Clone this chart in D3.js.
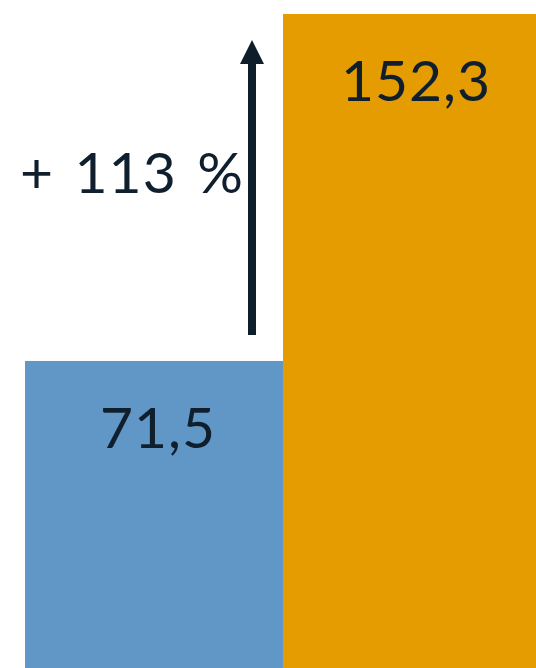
<!DOCTYPE html>
<html>
<head>
<meta charset="utf-8">
<script src="https://cdn.jsdelivr.net/npm/d3@7"></script>
<style>
  html, body { margin: 0; padding: 0; background: #fff; }
  svg { display: block; }
  text { font-family: Lato, "Open Sans", sans-serif; fill: #0f1f2d; letter-spacing: 1px; }
</style>
</head>
<body>
<div id="chart"></div>
<script>
// data
const categories = ['vorher', 'nachher'];
const values = [71.5, 152.3];
const colors = ['#6197c7', '#e59c00'];

const W = 536, H = 668;
const margin = {t:14, r:0, b:0, l:25};

const svg = d3.select('#chart').append('svg')
	.attr('width', W)
	.attr('height', H);

const scaleX = d3.scaleBand()
	.domain(categories)
	.range([margin.l, margin.l + 2*258])
	.paddingInner(0)
	.paddingOuter(0);

const scaleY = d3.scaleLinear()
	.domain([0, d3.max(values)])
	.range([H - margin.b, margin.t]);

const fmt = d3.format('.1f');
const fmtLabel = v => fmt(v).replace('.', ',');

// bars
svg.selectAll('.bar')
	.data(values)
	.enter()
	.append('rect')
	.attr('class', 'bar')
	.attr('x', (d,i) => scaleX(categories[i]))
	.attr('y', d => scaleY(d))
	.attr('width', scaleX.bandwidth())
	.attr('height', d => scaleY(0) - scaleY(d))
	.attr('fill', (d,i) => colors[i]);

// value labels
svg.selectAll('.label')
	.data(values)
	.enter()
	.append('text')
	.attr('class', 'label')
	.attr('x', (d,i) => scaleX(categories[i]) + scaleX.bandwidth()/2 + 4)
	.attr('y', d => scaleY(d) + 87)
	.attr('text-anchor', 'middle')
	.style('font-size', '57px')
	.text(d => fmtLabel(d));

// growth arrow
const ax = 252;
const yTop = scaleY(values[1]) + 26;
const yBot = scaleY(values[0]) - 26;

svg.append('line')
	.attr('x1', ax).attr('x2', ax)
	.attr('y1', yBot).attr('y2', yTop + 20)
	.attr('stroke', '#0f1e2b')
	.attr('stroke-width', 8);

svg.append('path')
	.attr('d', `M${ax},${yTop} L${ax+12},${yTop+24} L${ax-12},${yTop+24} Z`)
	.attr('fill', '#0f1e2b');

const pct = Math.round((values[1]/values[0] - 1) * 100);
svg.append('text')
	.attr('x', 244)
	.attr('y', 193)
	.attr('text-anchor', 'end')
	.style('font-size', '57px')
	.style('word-spacing', '5px')
	.text(`+ ${pct} %`);
</script>
</body>
</html>
